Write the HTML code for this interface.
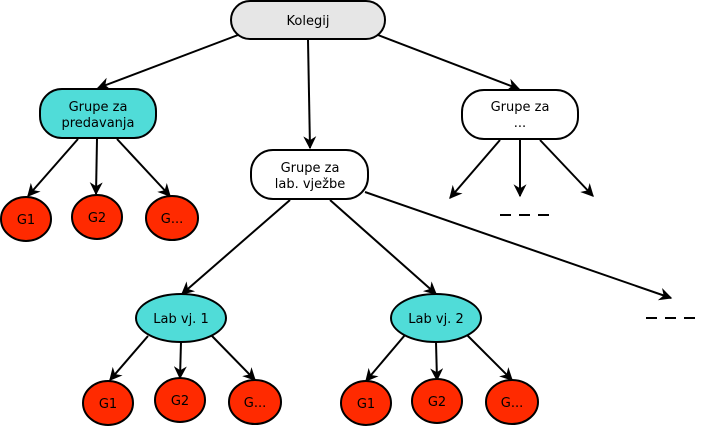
<!DOCTYPE html>
<html><head><meta charset="utf-8"><style>body{margin:0;background:#fff}svg{display:block}text{font-family:"DejaVu Sans","Liberation Sans",sans-serif;font-size:13px;fill:#000}</style></head>
<body>
<svg width="701" height="426" viewBox="0 0 701 426" xmlns="http://www.w3.org/2000/svg">
<defs><marker id="a" viewBox="0 0 10 10" refX="9" refY="5" markerWidth="15" markerHeight="13" markerUnits="userSpaceOnUse" orient="auto"><path d="M0,0 L10,5 L0,10 L3,5 z" fill="#000"/></marker></defs>
<g stroke="#000" stroke-width="2" fill="none" marker-end="url(#a)">
<line x1="238" y1="35" x2="98" y2="88"/>
<line x1="308" y1="40" x2="310" y2="148"/>
<line x1="378" y1="35" x2="519" y2="89"/>
<line x1="78" y1="139" x2="28" y2="196"/>
<line x1="97" y1="139" x2="96" y2="194"/>
<line x1="117" y1="139" x2="170" y2="196"/>
<line x1="500" y1="140" x2="450" y2="198"/>
<line x1="520" y1="140" x2="520" y2="196"/>
<line x1="540" y1="140" x2="593" y2="196"/>
<line x1="290" y1="200" x2="182" y2="294"/>
<line x1="330" y1="200" x2="436" y2="294"/>
<line x1="365" y1="192" x2="671" y2="298"/>
<line x1="148" y1="336" x2="110" y2="380"/>
<line x1="181" y1="342" x2="180" y2="378"/>
<line x1="212" y1="336" x2="255" y2="380"/>
<line x1="405" y1="335" x2="366" y2="381"/>
<line x1="436" y1="342" x2="437" y2="380"/>
<line x1="467" y1="335" x2="512" y2="380"/>
</g>
<g stroke="#000" stroke-width="2">
<line x1="500" y1="215" x2="550" y2="215" stroke-dasharray="11,8"/>
<line x1="646" y1="318" x2="696" y2="318" stroke-dasharray="11,8"/>
</g>
<g stroke="#000" stroke-width="2">
<rect x="231" y="1" width="154" height="38" rx="19" fill="#e6e6e6"/>
<rect x="40" y="89" width="116" height="49" rx="22" fill="#50dcd8"/>
<rect x="251" y="150" width="117" height="49" rx="22" fill="#fff"/>
<rect x="462" y="90" width="116" height="49" rx="22" fill="#fff"/>
<ellipse cx="26" cy="219" rx="25" ry="22" fill="#ff2a00"/>
<ellipse cx="97" cy="217" rx="25" ry="22" fill="#ff2a00"/>
<ellipse cx="172" cy="218" rx="26" ry="22" fill="#ff2a00"/>
<ellipse cx="181" cy="318" rx="45" ry="24" fill="#50dcd8"/>
<ellipse cx="436" cy="318" rx="45" ry="24" fill="#50dcd8"/>
<ellipse cx="108" cy="403" rx="25" ry="22" fill="#ff2a00"/>
<ellipse cx="180" cy="400" rx="25" ry="22" fill="#ff2a00"/>
<ellipse cx="255" cy="402" rx="26" ry="22" fill="#ff2a00"/>
<ellipse cx="366" cy="403" rx="25" ry="22" fill="#ff2a00"/>
<ellipse cx="437" cy="401" rx="25" ry="22" fill="#ff2a00"/>
<ellipse cx="512" cy="402" rx="26" ry="22" fill="#ff2a00"/>
</g>
<g text-anchor="middle">
<text x="308" y="25">Kolegij</text>
<text x="98" y="111">Grupe za</text><text x="98" y="127">predavanja</text>
<text x="310" y="172">Grupe za</text><text x="310" y="188">lab. vježbe</text>
<text x="520" y="111">Grupe za</text><text x="520" y="127">...</text>
<text x="26" y="224">G1</text><text x="97" y="222">G2</text><text x="172" y="223">G...</text>
<text x="181" y="323">Lab vj. 1</text><text x="436" y="323">Lab vj. 2</text>
<text x="108" y="408">G1</text><text x="180" y="405">G2</text><text x="255" y="407">G...</text>
<text x="366" y="408">G1</text><text x="437" y="406">G2</text><text x="512" y="407">G...</text>
</g>
</svg>
</body></html>
